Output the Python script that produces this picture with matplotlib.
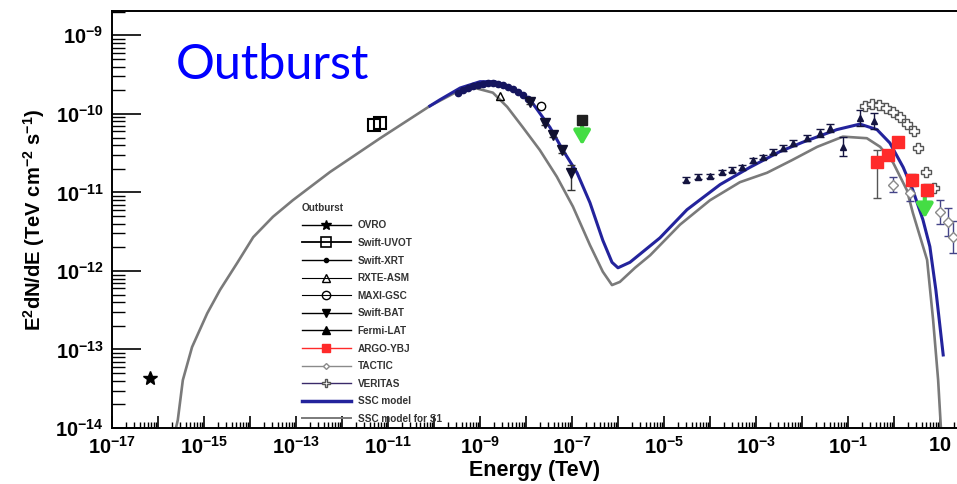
import numpy as np
import matplotlib
matplotlib.use("Agg")
import matplotlib.pyplot as plt
from matplotlib.lines import Line2D
from matplotlib.ticker import FixedLocator, LogLocator, FuncFormatter, NullFormatter

plt.rcParams['font.family'] = ['Liberation Sans', 'DejaVu Sans']
plt.rcParams['mathtext.fontset'] = 'custom'
plt.rcParams['mathtext.rm'] = 'Liberation Sans:bold'
plt.rcParams['mathtext.it'] = 'Liberation Sans:bold'
plt.rcParams['mathtext.bf'] = 'Liberation Sans:bold'

# ---------------- data (log10 E [TeV], log10 E^2dN/dE [TeV cm^-2 s^-1]) ----------------
s1_logE = [-15.61, -15.57, -15.46, -15.26, -14.93, -14.65, -14.28, -13.93, -13.50, -13.07,
           -12.26, -11.17, -10.09, -9.54, -9.11, -8.72, -8.41, -8.07, -7.70, -7.33, -6.98,
           -6.61, -6.33, -6.13, -5.96, -5.63, -5.30, -4.65, -4.00, -3.35, -2.76, -2.22, -1.67,
           -1.11, -0.59, -0.30, -0.02, 0.28, 0.41, 0.57, 0.72, 0.85, 0.96, 1.02]
s1_logF = [-14.00, -13.90, -13.39, -12.97, -12.54, -12.24, -11.90, -11.57, -11.31, -11.10,
           -10.74, -10.31, -9.90, -9.73, -9.67, -9.73, -9.91, -10.17, -10.46, -10.80, -11.18,
           -11.67, -12.01, -12.18, -12.14, -11.96, -11.80, -11.41, -11.10, -10.87, -10.75, -10.59, -10.42,
           -10.29, -10.31, -10.42, -10.62, -10.97, -11.26, -11.57, -11.86, -12.62, -13.39, -14.00]

ssc_logE = [-10.09, -9.87, -9.43, -9.00, -8.67, -8.35, -7.91, -7.48, -7.20, -6.89, -6.61, -6.33,
            -6.13, -6.00, -5.74, -5.09, -4.50, -3.78, -3.13, -2.48, -1.98, -1.24, -0.74, -0.37,
            -0.09, 0.20, 0.41, 0.63, 0.78, 0.91, 1.07]
ssc_logF = [-9.90, -9.82, -9.67, -9.59, -9.59, -9.67, -9.82, -10.17, -10.46, -10.75, -11.13, -11.61,
            -11.89, -11.96, -11.89, -11.58, -11.22, -10.90, -10.68, -10.48, -10.36, -10.20, -10.13, -10.20,
            -10.37, -10.68, -10.97, -11.35, -11.69, -12.24, -13.07]

ovro_logE = [-16.17]
ovro_logF = [-13.36]

uvot_logE = [-11.30, -11.17]
uvot_logF = [-10.14, -10.11]

xrt_logE = [-9.48, -9.37, -9.26, -9.15, -9.04, -8.93, -8.83, -8.72, -8.61, -8.50, -8.39, -8.28,
            -8.17, -8.07, -7.96]
xrt_logF = [-9.73, -9.69, -9.67, -9.64, -9.63, -9.62, -9.61, -9.61, -9.62, -9.63, -9.66, -9.68,
            -9.72, -9.76, -9.81]

rxte_logE = [-8.57]
rxte_logF = [-9.77]

maxi_logE = [-7.67]
maxi_logF = [-9.90]

bat_logE = [-7.91, -7.59, -7.41, -7.22, -7.02]
bat_logF = [-9.85, -10.11, -10.27, -10.46, -10.75]
bat_err_lo = [0.03, 0.03, 0.03, 0.04, 0.22]
bat_err_hi = [0.03, 0.03, 0.03, 0.04, 0.10]

ul1_logE = [-6.78]
ul1_logF = [-10.08]
ul1_tip = [-10.40]

fermi_logE = [-4.52, -4.26, -4.00, -3.74, -3.52, -3.30, -3.07, -2.85, -2.63, -2.41, -2.20,
              -1.89, -1.61, -1.39, -1.11, -0.74, -0.43]
fermi_logF = [-10.84, -10.80, -10.79, -10.74, -10.71, -10.68, -10.59, -10.55, -10.48, -10.43,
              -10.37, -10.31, -10.24, -10.18, -10.42, -10.05, -10.09]
fermi_err = [0.03, 0.03, 0.03, 0.03, 0.03, 0.03, 0.03, 0.03, 0.03, 0.04, 0.04,
             0.04, 0.05, 0.05, 0.12, 0.10, 0.10]

argo_logE = [-0.37, -0.13, 0.09, 0.39, 0.72]
argo_logF = [-10.61, -10.52, -10.36, -10.84, -10.97]
argo_err_lo = [0.46, 0.06, 0.05, 0.08, 0.08]
argo_err_hi = [0.15, 0.06, 0.05, 0.08, 0.08]

ul2_logE = [0.67]
ul2_logF = [-11.04]
ul2_tip = [-11.33]

tactic_logE = [-0.02, 0.35, 1.00, 1.17, 1.28]
tactic_logF = [-10.90, -11.01, -11.25, -11.38, -11.57]
tactic_err = [0.10, 0.10, 0.15, 0.18, 0.20]

veritas_logE = [-0.63, -0.48, -0.33, -0.17, -0.02, 0.13, 0.28, 0.43, 0.52, 0.70, 0.87]
veritas_logF = [-9.90, -9.87, -9.89, -9.92, -9.97, -10.04, -10.13, -10.22, -10.43, -10.74, -10.94]

legend_labels = ['OVRO', 'Swift-UVOT', 'Swift-XRT', 'RXTE-ASM', 'MAXI-GSC', 'Swift-BAT',
                 'Fermi-LAT', 'ARGO-YBJ', 'TACTIC', 'VERITAS', 'SSC model', 'SSC model for S1']
title_text = 'Outburst'

# ---------------- figure ----------------
P = lambda a: 10.0 ** np.asarray(a, dtype=float)

fig = plt.figure(figsize=(9.57, 4.84), dpi=100)
ax = fig.add_axes([112 / 957, 56 / 484, 845 / 957, 417 / 484])
ax.set_xscale('log')
ax.set_yscale('log')
ax.set_xlim(1e-17, 10 ** 1.37)
ax.set_ylim(1e-14, 10 ** -8.69)

GREY = '#7a7a7a'
BLUE = '#23239c'
GREEN = '#44dd44'

ax.plot(P(s1_logE), P(s1_logF), color=GREY, lw=1.9, zorder=2)
ax.plot(P(ssc_logE), P(ssc_logF), color=BLUE, lw=2.2, zorder=3)

ax.plot(P(ovro_logE), P(ovro_logF), ls='none', marker='*', ms=10, color='black', zorder=5)
ax.plot(P(uvot_logE), P(uvot_logF), ls='none', marker='s', ms=8, mfc='none', mec='black', mew=1.5, zorder=5)
ax.plot(P(xrt_logE), P(xrt_logF), ls='none', marker='o', ms=4.5, color='#15155e', zorder=5)
ax.plot(P(rxte_logE), P(rxte_logF), ls='none', marker='^', ms=6, mfc='none', mec='black', mew=1, zorder=5)
ax.plot(P(maxi_logE), P(maxi_logF), ls='none', marker='o', ms=6, mfc='none', mec='black', mew=1, zorder=5)

bf = P(bat_logF)
ax.errorbar(P(bat_logE), bf,
            yerr=[bf - P(np.array(bat_logF) - np.array(bat_err_lo)), P(np.array(bat_logF) + np.array(bat_err_hi)) - bf],
            ls='none', marker='v', ms=7, color='#101030', ecolor='#333333', elinewidth=1, capsize=3, zorder=5)

# upper limits (green arrows)
for lx, ly, lt in [(ul1_logE[0], ul1_logF[0], ul1_tip[0]), (ul2_logE[0], ul2_logF[0], ul2_tip[0])]:
    ax.annotate('', xy=(10 ** lx, 10 ** lt), xytext=(10 ** lx, 10 ** ly),
                arrowprops=dict(arrowstyle='-|>,head_width=0.35,head_length=0.6', color=GREEN,
                                lw=3, mutation_scale=14, shrinkA=0, shrinkB=0), zorder=6)
ax.plot(P(ul1_logE), P(ul1_logF), ls='none', marker='s', ms=7, color='#202020', zorder=7)

ff = P(fermi_logF)
ax.errorbar(P(fermi_logE), ff,
            yerr=[ff - P(np.array(fermi_logF) - np.array(fermi_err)), P(np.array(fermi_logF) + np.array(fermi_err)) - ff],
            ls='none', marker='^', ms=5, color='#141440', ecolor='#141440', elinewidth=1, capsize=3, zorder=5)

af = P(argo_logF)
ax.errorbar(P(argo_logE), af,
            yerr=[af - P(np.array(argo_logF) - np.array(argo_err_lo)), P(np.array(argo_logF) + np.array(argo_err_hi)) - af],
            ls='none', marker='s', ms=8, color='#ff2a2a', ecolor='#555555', elinewidth=1, capsize=3, zorder=6)

tf = P(tactic_logF)
ax.errorbar(P(tactic_logE), tf,
            yerr=[tf - P(np.array(tactic_logF) - np.array(tactic_err)), P(np.array(tactic_logF) + np.array(tactic_err)) - tf],
            ls='none', marker='D', ms=5, mfc='white', mec='#8a8a8a', ecolor='#444488', elinewidth=1, capsize=3, zorder=5)

ax.plot(P(veritas_logE), P(veritas_logF), ls='none', marker='P', ms=7, mfc='white', mec='#555555', mew=1, zorder=5)

# ---------------- axes styling ----------------
ax.xaxis.set_major_locator(FixedLocator(10.0 ** np.arange(-17, 2)))
ax.xaxis.set_minor_locator(LogLocator(base=10, subs=np.arange(2, 10), numticks=100))

def xfmt(v, pos):
    e = int(round(np.log10(v)))
    if e == 1:
        return r'$10$'
    if e % 2 != 0:
        return r'$10^{%d}$' % e
    return ''

ax.xaxis.set_major_formatter(FuncFormatter(xfmt))
ax.xaxis.set_minor_formatter(NullFormatter())
ax.yaxis.set_major_locator(FixedLocator(10.0 ** np.arange(-14, -8)))
ax.yaxis.set_minor_locator(LogLocator(base=10, subs=np.arange(2, 10), numticks=100))
ax.yaxis.set_major_formatter(FuncFormatter(lambda v, p: r'$10^{%d}$' % int(round(np.log10(v)))))
ax.yaxis.set_minor_formatter(NullFormatter())

ax.tick_params(axis='y', which='major', direction='in', length=21, width=1.2, labelsize=14.5, pad=6)
ax.tick_params(axis='y', which='minor', direction='in', length=9, width=1)
ax.tick_params(axis='x', which='major', direction='in', length=9, width=1.2, labelsize=14.5, pad=6)
ax.tick_params(axis='x', which='minor', direction='in', length=4.5, width=1)
for s in ['left', 'bottom', 'top']:
    ax.spines[s].set_linewidth(1.4)
ax.spines['right'].set_visible(False)

ax.set_xlabel('Energy (TeV)', fontsize=15.5, fontweight='bold', labelpad=1)
ax.set_ylabel(r'E$^{2}$dN/dE (TeV cm$^{-2}$ s$^{-1}$)', fontsize=14.5, fontweight='bold', labelpad=6)

fig.text(176 / 957, 1 - 79 / 484, title_text, color='#0000ff', fontsize=35,
         family=['Lato', 'DejaVu Sans'], va='baseline', ha='left')

# ---------------- legend ----------------
handles = [
    Line2D([], [], color='black', lw=1, marker='*', ms=7),
    Line2D([], [], color='black', lw=1.3, marker='s', ms=7, mfc='none', mew=1.2),
    Line2D([], [], color='black', lw=1, marker='o', ms=3),
    Line2D([], [], color='black', lw=0.8, marker='^', ms=6, mfc='none'),
    Line2D([], [], color='black', lw=0.8, marker='o', ms=6, mfc='none'),
    Line2D([], [], color='black', lw=1, marker='v', ms=6),
    Line2D([], [], color='black', lw=1, marker='^', ms=6),
    Line2D([], [], color='#ff2a2a', lw=1, marker='s', ms=6, mec='#ff2a2a'),
    Line2D([], [], color='#8a8a8a', lw=1, marker='D', ms=3, mfc='white', mec='#8a8a8a'),
    Line2D([], [], color='#3a2a6a', lw=1, marker='P', ms=6, mfc='white', mec='#555555'),
    Line2D([], [], color=BLUE, lw=2.5),
    Line2D([], [], color=GREY, lw=1.4),
]
leg = ax.legend(handles, legend_labels, loc='upper left', bbox_to_anchor=(0.222, 0.545),
                frameon=False, fontsize=7.2, handlelength=4.9, labelspacing=0.76,
                handletextpad=0.7, title='Outburst', title_fontsize=7.2, alignment='left',
                borderaxespad=0, borderpad=0.2)
for t in leg.get_texts():
    t.set_color('#333333')
    t.set_fontweight('bold')
leg.get_title().set_color('#333333')
leg.get_title().set_fontweight('bold')

fig.savefig('out.png', dpi=100)
